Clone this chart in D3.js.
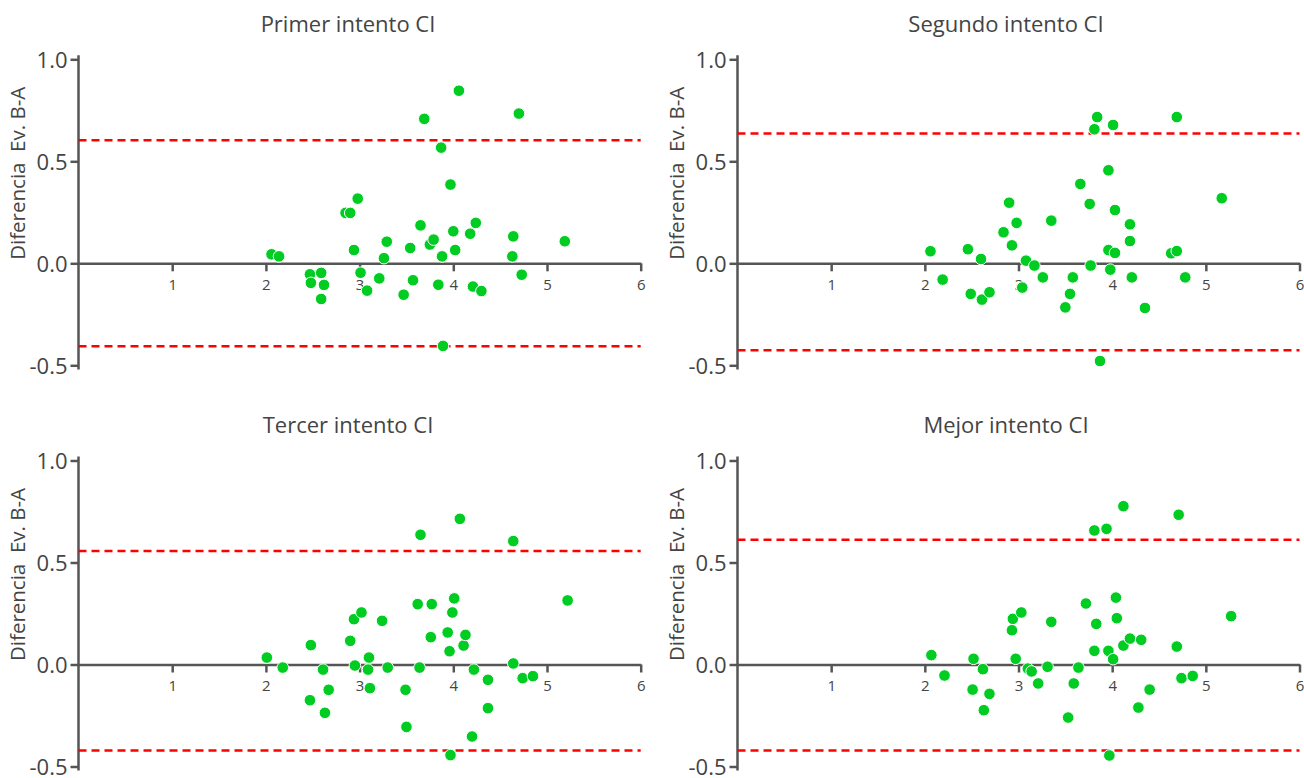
<!DOCTYPE html>
<html>
<head>
<meta charset="utf-8">
<script src="https://cdnjs.cloudflare.com/ajax/libs/d3/7.8.5/d3.min.js"></script>
<style>
  html, body { margin: 0; padding: 0; background: #fff; }
  svg { display: block; }
</style>
</head>
<body>
<svg id="chart" width="1304" height="778"></svg>
<script>
// ---- Data ----
const titles = ["Primer intento CI", "Segundo intento CI", "Tercer intento CI", "Mejor intento CI"];
const yLabel = "Diferencia\u00a0\u00a0Ev. B-A";
const xTicks = [1, 2, 3, 4, 5, 6];
const yTicks = [-0.5, 0.0, 0.5, 1.0];
const yTickLabels = ["-0.5", "0.0", "0.5", "1.0"];

const p1x = [2.06, 2.14, 2.47, 2.48, 2.59, 2.62, 2.59, 2.85, 2.90, 2.98, 2.94, 3.01, 3.08, 3.21, 3.26, 3.29, 3.47, 3.54, 3.57, 3.65, 3.69, 3.75, 3.79, 3.84, 3.87, 3.88, 3.89, 3.97, 4.00, 4.02, 4.06, 4.18, 4.21, 4.24, 4.30, 4.63, 4.64, 4.70, 4.73, 5.19];
const p1y = [0.044, 0.034, -0.054, -0.096, -0.047, -0.106, -0.175, 0.247, 0.247, 0.317, 0.065, -0.046, -0.134, -0.074, 0.025, 0.106, -0.154, 0.075, -0.083, 0.186, 0.708, 0.092, 0.116, -0.105, 0.567, 0.034, -0.405, 0.386, 0.157, 0.065, 0.846, 0.145, -0.114, 0.198, -0.136, 0.034, 0.132, 0.734, -0.056, 0.108];

const p2x = [2.06, 2.19, 2.46, 2.49, 2.60, 2.61, 2.69, 2.84, 2.90, 2.93, 2.98, 3.04, 3.08, 3.17, 3.26, 3.35, 3.50, 3.55, 3.58, 3.66, 3.76, 3.77, 3.81, 3.84, 3.87, 3.96, 3.96, 3.98, 4.01, 4.03, 4.03, 4.19, 4.19, 4.21, 4.35, 4.63, 4.69, 4.69, 4.78, 5.17];
const p2y = [0.059, -0.080, 0.069, -0.150, 0.021, -0.178, -0.142, 0.152, 0.297, 0.088, 0.198, -0.119, 0.013, -0.011, -0.069, 0.209, -0.216, -0.150, -0.069, 0.389, 0.291, -0.011, 0.657, 0.717, -0.479, 0.456, 0.065, -0.031, 0.678, 0.051, 0.261, 0.109, 0.191, -0.069, -0.219, 0.049, 0.060, 0.717, -0.069, 0.319];

const p3x = [2.01, 2.18, 2.48, 2.47, 2.61, 2.63, 2.67, 2.90, 2.94, 2.95, 3.02, 3.10, 3.09, 3.11, 3.24, 3.30, 3.49, 3.50, 3.62, 3.64, 3.65, 3.76, 3.77, 3.94, 3.96, 3.97, 3.99, 4.01, 4.07, 4.11, 4.13, 4.20, 4.22, 4.37, 4.37, 4.64, 4.64, 4.74, 4.85, 5.22];
const p3y = [0.034, -0.015, 0.095, -0.175, -0.025, -0.237, -0.124, 0.116, 0.222, -0.005, 0.255, 0.034, -0.025, -0.116, 0.214, -0.015, -0.124, -0.306, 0.296, -0.015, 0.636, 0.134, 0.296, 0.157, 0.065, -0.444, 0.255, 0.324, 0.714, 0.093, 0.145, -0.353, -0.025, -0.214, -0.075, 0.605, 0.005, -0.067, -0.057, 0.314];

const p4x = [2.07, 2.21, 2.51, 2.52, 2.62, 2.63, 2.69, 2.93, 2.94, 2.97, 3.03, 3.10, 3.14, 3.21, 3.31, 3.35, 3.53, 3.59, 3.64, 3.72, 3.81, 3.81, 3.83, 3.94, 3.96, 3.97, 4.01, 4.04, 4.05, 4.12, 4.12, 4.19, 4.28, 4.31, 4.40, 4.69, 4.71, 4.74, 4.86, 5.27];
const p4y = [0.046, -0.054, -0.123, 0.028, -0.023, -0.224, -0.144, 0.168, 0.224, 0.028, 0.255, -0.020, -0.034, -0.093, -0.011, 0.209, -0.260, -0.093, -0.015, 0.299, 0.067, 0.657, 0.199, 0.665, 0.067, -0.446, 0.026, 0.328, 0.227, 0.776, 0.093, 0.127, -0.211, 0.121, -0.123, 0.088, 0.734, -0.067, -0.056, 0.237];

const upperLoA = [0.603, 0.636, 0.556, 0.611];
const lowerLoA = [-0.407, -0.426, -0.422, -0.422];

const seriesX = [p1x, p2x, p3x, p4x];
const seriesY = [p1y, p2y, p3y, p4y];

// ---- Layout ----
const panels = [
  { x0: 78.5, x1: 640.7, yTop: 59.3, yBot: 365.3, titleX: 348, titleY: 32, labelX: 20 },
  { x0: 737.5, x1: 1299.5, yTop: 59.3, yBot: 365.3, titleX: 1006, titleY: 32, labelX: 679 },
  { x0: 78.5, x1: 640.7, yTop: 460.5, yBot: 766.5, titleX: 348, titleY: 433, labelX: 20 },
  { x0: 737.5, x1: 1299.5, yTop: 460.5, yBot: 766.5, titleX: 1006, titleY: 433, labelX: 679 }
];

const FONT = "'Open Sans', 'Noto Sans', sans-serif";
const AXIS = "#555555";
const TEXT = "#444444";
const svg = d3.select("#chart");

panels.forEach((p, i) => {
  const x = d3.scaleLinear().domain([0, 6]).range([p.x0, p.x1]);
  const y = d3.scaleLinear().domain([-0.5, 1.0]).range([p.yBot, p.yTop]);
  const g = svg.append("g");

  // title
  g.append("text")
    .attr("x", p.titleX).attr("y", p.titleY)
    .attr("text-anchor", "middle")
    .attr("font-family", FONT).attr("font-size", 22)
    .attr("fill", TEXT)
    .text(titles[i]);

  // y label
  g.append("text")
    .attr("transform", `translate(${p.labelX},${(y(1.0) + y(0)) / 2 + 12}) rotate(-90)`)
    .attr("text-anchor", "middle")
    .attr("dominant-baseline", "middle")
    .attr("font-family", FONT).attr("font-size", 20.5)
    .attr("fill", TEXT)
    .text(yLabel);

  // y axis
  const yAxis = d3.axisLeft(y).tickValues(yTicks)
    .tickFormat((d, k) => yTickLabels[k])
    .tickSize(8).tickSizeOuter(0).tickPadding(3);
  const ya = g.append("g").attr("transform", `translate(${x(0)},0)`).call(yAxis);
  ya.select(".domain").remove();
  ya.selectAll(".tick line").attr("stroke", AXIS).attr("stroke-width", 2.5);
  ya.selectAll(".tick text").attr("font-family", FONT).attr("font-size", 22)
    .attr("fill", TEXT).attr("dy", "0.36em");
  g.append("line")
    .attr("x1", x(0)).attr("x2", x(0))
    .attr("y1", y(1.02)).attr("y2", y(-0.52))
    .attr("stroke", AXIS).attr("stroke-width", 2.5);

  // x axis at y = 0
  const xAxis = d3.axisBottom(x).tickValues(xTicks).tickFormat(d3.format("d"))
    .tickSize(8).tickSizeOuter(0).tickPadding(8);
  const xa = g.append("g").attr("transform", `translate(0,${y(0)})`).call(xAxis);
  xa.select(".domain").attr("stroke", AXIS).attr("stroke-width", 2.5);
  xa.selectAll(".tick line").attr("stroke", AXIS).attr("stroke-width", 2.5);
  xa.selectAll(".tick text").attr("font-family", FONT).attr("font-size", 15).attr("fill", TEXT);

  // limits of agreement
  [upperLoA[i], lowerLoA[i]].forEach(v => {
    g.append("line")
      .attr("x1", x(0)).attr("x2", x(6))
      .attr("y1", y(v)).attr("y2", y(v))
      .attr("stroke", "#ff0000").attr("stroke-width", 2.5)
      .attr("stroke-dasharray", "8,5");
  });

  // points
  const pts = seriesX[i].map((vx, k) => ({ x: vx, y: seriesY[i][k] }));
  g.append("g").selectAll("circle").data(pts).enter().append("circle")
    .attr("cx", d => x(d.x)).attr("cy", d => y(d.y))
    .attr("r", 5.8)
    .attr("fill", "#00cc22")
    .attr("stroke", "#ffffff").attr("stroke-width", 1);
});
</script>
</body>
</html>
